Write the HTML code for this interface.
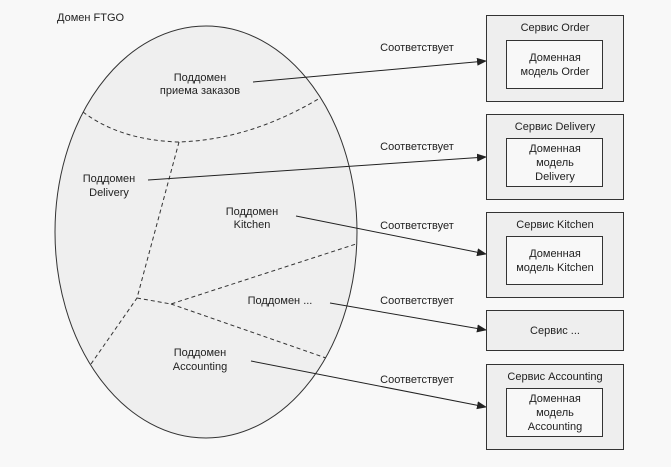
<!DOCTYPE html>
<html><head><meta charset="utf-8"><style>
html,body{margin:0;padding:0;background:#f8f8f8;}
svg text{font-family:"Liberation Sans","Noto Sans CJK SC",sans-serif;font-size:11px;fill:#222;}
</style></head><body>
<svg width="671" height="462" viewBox="0 0 671 462" xmlns="http://www.w3.org/2000/svg">
<defs><marker id="a" markerWidth="10" markerHeight="8" refX="9" refY="4" orient="auto" markerUnits="userSpaceOnUse"><path d="M0,0 L10,4 L0,8 z" fill="#222"/></marker></defs>
<rect width="671" height="462" fill="#f8f8f8"/>
<text x="57" y="21">Домен FTGO</text>
<ellipse cx="206" cy="232" rx="151" ry="206" fill="#efefef" stroke="#333" stroke-width="1"/>
<g fill="none" stroke="#333" stroke-width="1" stroke-dasharray="4,3">
<path d="M83,112 Q120,140 178,142 Q250,140 320,98"/>
<path d="M179,142 L137,298 L91,364"/>
<path d="M137,298 L171,304 L356,244"/>
<path d="M171,304 L326,358"/>
</g>
<g text-anchor="middle">
<text x="200" y="81">Поддомен</text><text x="200" y="94">приема заказов</text>
<text x="109" y="182">Поддомен</text><text x="109" y="196">Delivery</text>
<text x="252" y="215">Поддомен</text><text x="252" y="228">Kitchen</text>
<text x="280" y="304">Поддомен ...</text>
<text x="200" y="356">Поддомен</text><text x="200" y="370">Accounting</text>
</g>
<g text-anchor="middle">
<text x="417" y="51">Соответствует</text>
<text x="417" y="150">Соответствует</text>
<text x="417" y="229">Соответствует</text>
<text x="417" y="304">Соответствует</text>
<text x="417" y="383">Соответствует</text>
</g>
<g stroke="#222" stroke-width="1" marker-end="url(#a)">
<line x1="253" y1="82" x2="486" y2="61"/>
<line x1="148" y1="180" x2="486" y2="157"/>
<line x1="296" y1="216" x2="486" y2="254"/>
<line x1="330" y1="303" x2="486" y2="330"/>
<line x1="251" y1="361" x2="486" y2="407"/>
</g>
<g fill="#eeeeee" stroke="#333" stroke-width="1">
<rect x="486.5" y="15.5" width="137" height="86"/>
<rect x="486.5" y="114.5" width="137" height="85"/>
<rect x="486.5" y="212.5" width="137" height="85"/>
<rect x="486.5" y="310.5" width="137" height="40"/>
<rect x="486.5" y="364.5" width="137" height="85"/>
</g>
<g fill="#f8f8f8" stroke="#333" stroke-width="1">
<rect x="506.5" y="40.5" width="96" height="48"/>
<rect x="506.5" y="138.5" width="96" height="48"/>
<rect x="506.5" y="236.5" width="96" height="48"/>
<rect x="506.5" y="388.5" width="96" height="48"/>
</g>
<g text-anchor="middle">
<text x="555" y="31">Сервис Order</text>
<text x="555" y="61">Доменная</text><text x="555" y="75">модель Order</text>
<text x="555" y="130">Сервис Delivery</text>
<text x="555" y="152">Доменная</text><text x="555" y="166">модель</text><text x="555" y="180">Delivery</text>
<text x="555" y="228">Сервис Kitchen</text>
<text x="555" y="257">Доменная</text><text x="555" y="271">модель Kitchen</text>
<text x="555" y="334">Сервис ...</text>
<text x="555" y="380">Сервис Accounting</text>
<text x="555" y="402">Доменная</text><text x="555" y="416">модель</text><text x="555" y="430">Accounting</text>
</g>
</svg>
</body></html>
